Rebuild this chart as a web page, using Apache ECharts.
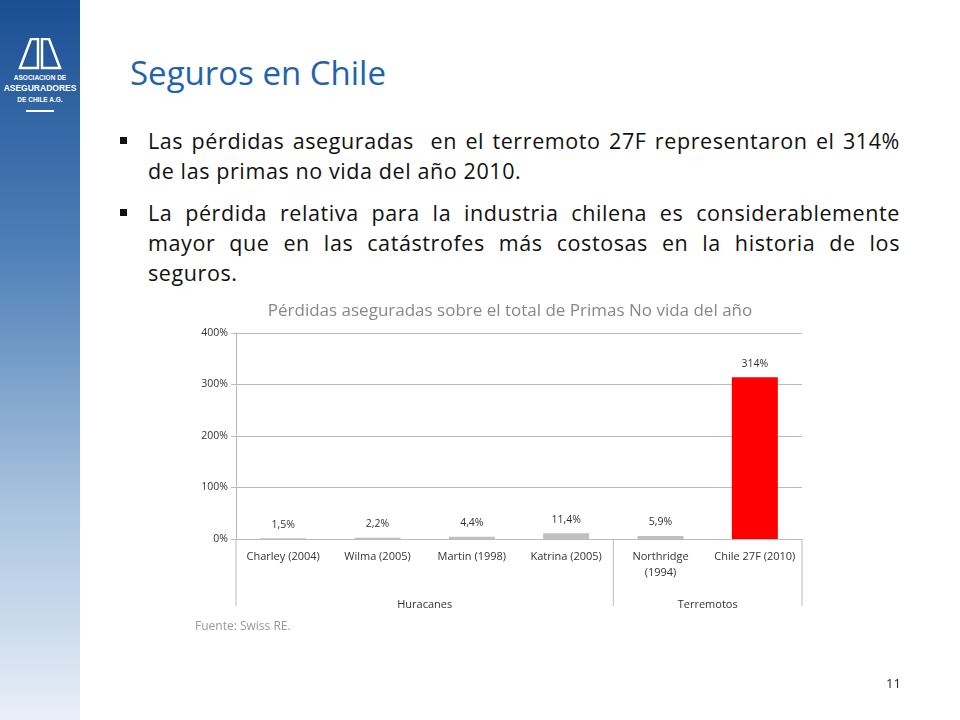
<!DOCTYPE html>
<html><head><meta charset="utf-8">
<script src="https://cdn.jsdelivr.net/npm/echarts@6/dist/echarts.min.js"></script>
<style>
body{margin:0;width:960px;height:720px;position:relative;font-family:"Open Sans",sans-serif;background:#fff;overflow:hidden}
#side{position:absolute;left:0;top:0;width:80px;height:720px;background:linear-gradient(#1a4f94 0%,#4f80b8 35%,#a9c3df 70%,#e8eff8 100%)}
#logo{position:absolute;left:0;top:38px;width:80px;text-align:center;color:#fff;font-family:"Liberation Sans",sans-serif;font-weight:bold;line-height:9px}
#title{position:absolute;left:130px;top:50px;font-size:33px;color:#1f63ae}
.b{position:absolute;left:148px;width:752px;font-size:21.5px;color:#111;text-align:justify;line-height:30px;letter-spacing:0.6px}
.b:before{content:"";position:absolute;left:-28px;top:11px;width:7px;height:7px;background:#111}
#c{position:absolute;left:0;top:0;width:960px;height:720px}
#pg{position:absolute;left:886px;top:674px;font-size:13px;color:#222}
</style></head><body>
<div id="side"></div>
<div id="logo">
<svg width="46" height="32" viewBox="0 0 46 32"><path d="M14 1 L21 1 L21 30 L3 30 Z M25 1 L32 1 L43 30 L25 30 Z" fill="none" stroke="#fff" stroke-width="2.5"/></svg>
<div style="font-size:6.5px;margin-top:3px">ASOCIACION DE</div>
<div style="font-size:8.5px;margin-top:2px">ASEGURADORES</div>
<div style="font-size:6.5px;margin-top:2px">DE CHILE A.G.</div>
<div style="width:28px;height:2px;background:#fff;margin:6px auto 0"></div>
</div>
<div id="title">Seguros en Chile</div>
<div class="b" style="top:126px">Las pérdidas aseguradas &nbsp;en el terremoto 27F representaron el 314% de las primas no vida del año 2010.</div>
<div class="b" style="top:198px">La pérdida relativa para la industria chilena es considerablemente mayor que en las catástrofes más costosas en la historia de los seguros.</div>
<div id="c"></div>
<div id="pg">11</div>
<script>
const categories=['Charley (2004)','Wilma (2005)','Martin (1998)','Katrina (2005)','Northridge\n(1994)','Chile 27F (2010)'];
const values=[1.5,2.2,4.4,11.4,5.9,314];
const labels=['1,5%','2,2%','4,4%','11,4%','5,9%','314%'];
const groups=[{name:'Huracanes',center:2},{name:'Terremotos',center:5}];
const groupBounds=[0,4,6];
const yTicks=[0,100,200,300,400];
const ch=echarts.init(document.getElementById('c'));
const L=236,R=802,T=333,B=539;
const fam='"Open Sans",sans-serif';
ch.setOption({
 animation:false,
 title:{text:'Pérdidas aseguradas sobre el total de Primas No vida del año',left:505,top:298,textAlign:'center',textStyle:{fontSize:17,fontWeight:'normal',color:'#888',fontFamily:fam}},
 grid:{left:L,right:960-R,top:T,bottom:720-B},
 xAxis:[{type:'category',data:categories,axisLine:{lineStyle:{color:'#bbb'}},axisTick:{length:44,lineStyle:{color:'#bbb'}},
   axisLabel:{color:'#333',fontSize:11,fontFamily:fam,margin:10,lineHeight:16,interval:0}},
  {type:'value',position:'bottom',min:0,max:6,interval:1,offset:52,axisLine:{show:false},axisTick:{show:false},splitLine:{show:false},
   axisLabel:{color:'#333',fontSize:11,fontFamily:fam,formatter:v=>{const g=groups.find(g=>g.center===v);return g?g.name:'';}}}],
 yAxis:{type:'value',min:0,max:400,interval:100,axisLine:{show:true,lineStyle:{color:'#bbb'}},splitLine:{lineStyle:{color:'#bbb'}},
   axisLabel:{formatter:v=>yTicks.includes(v)?v+'%':'',color:'#333',fontSize:10.5,fontFamily:fam}},
 series:[{type:'bar',barWidth:46,
   data:values.map((v,i)=>({value:v,itemStyle:{color:i===5?'#ff0000':'#bfbfbf'}})),
   label:{show:true,position:'top',distance:8,formatter:p=>labels[p.dataIndex],color:'#333',fontSize:10.5,fontFamily:fam}}]
});
const gfx=groupBounds.map(b=>{const x=L+(R-L)*b/6;return {type:'line',shape:{x1:x,y1:B,x2:x,y2:606},style:{stroke:'#bbb',lineWidth:1}};});
gfx.push({type:'text',left:195,top:621,style:{text:'Fuente: Swiss RE.',fill:'#999',font:'12px '+fam}});
ch.setOption({graphic:gfx});
</script>
</body></html>
